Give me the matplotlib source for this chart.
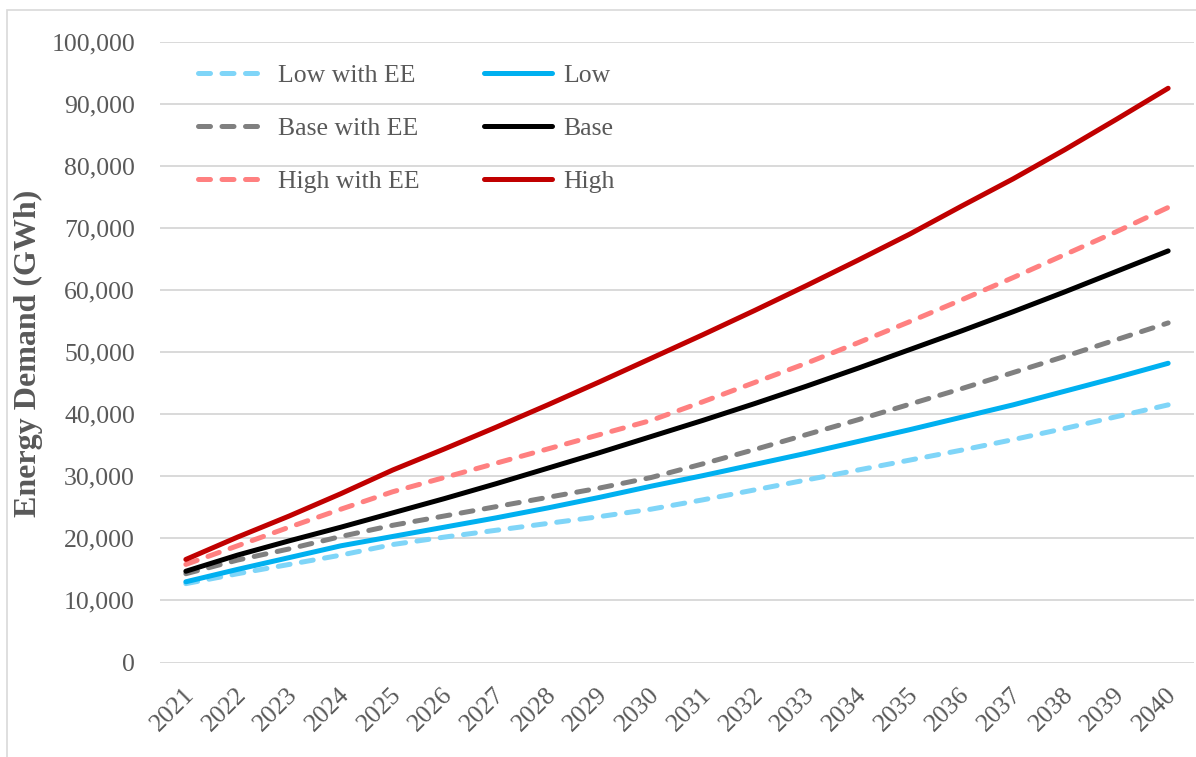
import matplotlib.pyplot as plt
from matplotlib.patches import Rectangle
from matplotlib.ticker import FuncFormatter, MultipleLocator
import matplotlib.transforms as mtransforms

plt.rcParams['font.family'] = ['Liberation Serif', 'DejaVu Serif']

years = list(range(2021, 2041))

# energy demand, GWh
low_ee = [12700, 14300, 15800, 17300, 19000, 20200, 21300, 22400, 23500, 24700,
          26200, 27800, 29400, 31000, 32600, 34200, 35900, 37700, 39600, 41500]
low = [13000, 15000, 16900, 18800, 20300, 21800, 23300, 24900, 26600, 28400,
       30100, 31900, 33700, 35600, 37500, 39500, 41500, 43700, 45900, 48200]
base_ee = [14300, 16500, 18300, 20300, 22100, 23600, 25100, 26600, 28100, 29800,
           32000, 34300, 36700, 39100, 41600, 44100, 46700, 49300, 52000, 54700]
base = [14700, 17300, 19600, 21800, 24100, 26400, 28800, 31300, 33800, 36400,
        39000, 41700, 44500, 47400, 50400, 53400, 56500, 59700, 63000, 66300]
high_ee = [15800, 18800, 21800, 24700, 27500, 29800, 32100, 34400, 36700, 39000,
           42000, 45100, 48200, 51500, 54900, 58400, 62000, 65700, 69400, 73300]
high = [16600, 20200, 23600, 27200, 31000, 34400, 37900, 41500, 45200, 49000,
        52800, 56700, 60700, 64800, 69000, 73500, 77900, 82600, 87500, 92500]

series = [
    ("Low with EE", low_ee, "#7FD5F8", True),
    ("Base with EE", base_ee, "#808080", True),
    ("High with EE", high_ee, "#FF8080", True),
    ("Low", low, "#00B0F0", False),
    ("Base", base, "#000000", False),
    ("High", high, "#C00000", False),
]

text_color = "#595959"
grid_color = "#D9D9D9"

fig = plt.figure(figsize=(11.96, 7.57), dpi=100)
ax = fig.add_axes([160 / 1196, 1 - 662.5 / 757, (1194 - 160) / 1196, (662.5 - 41.7) / 757])

for label, values, color, dashed in series:
    if dashed:
        ax.plot(years, values, color=color, lw=3.6, label=label,
                dashes=(2.4, 2.3), dash_capstyle="round", solid_capstyle="round")
    else:
        ax.plot(years, values, color=color, lw=3.6, label=label,
                solid_capstyle="round")

ax.set_xlim(2020.5, 2040.5)
ax.set_ylim(0, 100000)
ax.yaxis.set_major_locator(MultipleLocator(10000))
ax.yaxis.set_major_formatter(FuncFormatter(lambda v, p: f"{int(v):,}"))
ax.set_xticks(years)
ax.set_xticklabels([])

# rotated year labels, anchored at their right end a little below the axis
offset = mtransforms.ScaledTranslation(5 / 100, -29 / 100, fig.dpi_scale_trans)
for yr in years:
    ax.text(yr, 0, str(yr), transform=ax.get_xaxis_transform() + offset,
            rotation=45, ha="right", va="center", rotation_mode="anchor",
            fontsize=18.5, color=text_color)

ax.tick_params(axis="both", length=0, labelsize=18.5, labelcolor=text_color)
ax.tick_params(axis="y", pad=18)
ax.grid(axis="y", color=grid_color, lw=1.4)
ax.set_axisbelow(True)
for s in ax.spines.values():
    s.set_visible(False)

fig.text(28 / 1196, 1 - 353 / 757, "Energy Demand (GWh)", rotation=90,
         ha="center", va="center", fontsize=23, fontweight="bold", color=text_color)

leg = ax.legend(loc="upper left", bbox_to_anchor=(198 / 1196, 1 - 64 / 757),
                bbox_transform=fig.transFigure, ncol=2, frameon=False,
                fontsize=18.5, labelcolor=text_color, handlelength=2.65,
                handletextpad=0.45, columnspacing=2.5, labelspacing=1.17,
                borderpad=0, borderaxespad=0)

fig.patches.append(Rectangle((7 / 1196, -0.1), 1.2, 1 - 10 / 757 + 0.1,
                             transform=fig.transFigure, fill=False,
                             edgecolor=grid_color, lw=1.2))

fig.savefig("out.png", dpi=100)
